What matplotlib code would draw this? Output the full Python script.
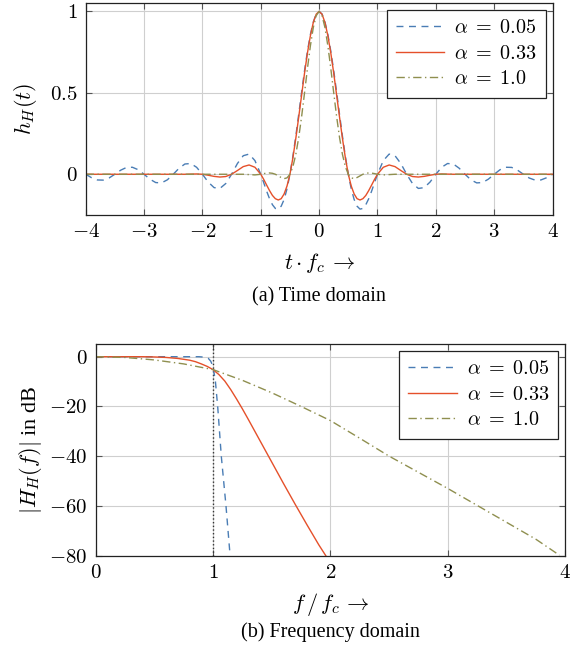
import matplotlib
matplotlib.use("Agg")
import matplotlib.pyplot as plt

plt.rcParams["mathtext.fontset"] = "cm"
plt.rcParams["font.family"] = ["Liberation Serif", "DejaVu Serif"]
plt.rcParams["font.size"] = 11

# --- time domain ---
t_vals = [-4.0, -3.9, -3.8, -3.7, -3.6, -3.5, -3.4, -3.3, -3.2, -3.1,
          -3.0, -2.9, -2.8, -2.7, -2.6, -2.5, -2.4, -2.3, -2.2, -2.1,
          -2.0, -1.9, -1.8, -1.7, -1.6, -1.5, -1.4, -1.3, -1.2, -1.1,
          -1.0, -0.95, -0.9, -0.85, -0.8, -0.75, -0.7, -0.65, -0.6, -0.55,
          -0.5, -0.45, -0.4, -0.35, -0.3, -0.25, -0.2, -0.15, -0.1, -0.05,
          0.0, 0.05, 0.1, 0.15, 0.2, 0.25, 0.3, 0.35, 0.4, 0.45,
          0.5, 0.55, 0.6, 0.65, 0.7, 0.75, 0.8, 0.85, 0.9, 0.95,
          1.0, 1.1, 1.2, 1.3, 1.4, 1.5, 1.6, 1.7, 1.8, 1.9,
          2.0, 2.1, 2.2, 2.3, 2.4, 2.5, 2.6, 2.7, 2.8, 2.9,
          3.0, 3.1, 3.2, 3.3, 3.4, 3.5, 3.6, 3.7, 3.8, 3.9, 4.0]

h_a005 = [0.000, -0.021, -0.035, -0.036, -0.023, 0.000, 0.025, 0.042, 0.043, 0.028,
          0.000, -0.030, -0.051, -0.053, -0.034, 0.000, 0.037, 0.063, 0.066, 0.043,
          0.000, -0.048, -0.082, -0.087, -0.057, 0.000, 0.066, 0.114, 0.124, 0.084,
          0.000, -0.051, -0.103, -0.150, -0.187, -0.210, -0.214, -0.196, -0.155, -0.089,
          0.000, 0.109, 0.233, 0.367, 0.504, 0.636, 0.756, 0.858, 0.935, 0.984,
          1.000, 0.984, 0.935, 0.858, 0.756, 0.636, 0.504, 0.367, 0.233, 0.109,
          0.000, -0.089, -0.155, -0.196, -0.214, -0.210, -0.187, -0.150, -0.103, -0.051,
          0.000, 0.084, 0.124, 0.114, 0.066, 0.000, -0.057, -0.087, -0.082, -0.048,
          0.000, 0.043, 0.066, 0.063, 0.037, 0.000, -0.034, -0.053, -0.051, -0.030,
          0.000, 0.028, 0.043, 0.042, 0.025, 0.000, -0.023, -0.036, -0.035, -0.021, 0.000]

h_a033 = [0.000, 0.000, 0.000, 0.000, 0.000, 0.000, 0.000, 0.000, 0.000, 0.000,
          0.000, 0.000, 0.000, 0.000, 0.000, 0.000, 0.000, 0.000, 0.001, 0.002,
          0.000, -0.006, -0.013, -0.017, -0.014, 0.000, 0.023, 0.047, 0.057, 0.043,
          0.000, -0.031, -0.066, -0.100, -0.130, -0.150, -0.158, -0.150, -0.121, -0.072,
          0.000, 0.100, 0.219, 0.350, 0.486, 0.621, 0.745, 0.850, 0.932, 0.983,
          1.000, 0.983, 0.932, 0.850, 0.745, 0.621, 0.486, 0.350, 0.219, 0.100,
          0.000, -0.072, -0.121, -0.150, -0.158, -0.150, -0.130, -0.100, -0.066, -0.031,
          0.000, 0.043, 0.057, 0.047, 0.023, 0.000, -0.014, -0.017, -0.013, -0.006,
          0.000, 0.002, 0.001, 0.000, 0.000, 0.000, 0.000, 0.000, 0.000, 0.000,
          0.000, 0.000, 0.000, 0.000, 0.000, 0.000, 0.000, 0.000, 0.000, 0.000, 0.000]

h_a100 = [0.000, 0.000, 0.000, 0.000, 0.000, 0.000, 0.000, 0.000, 0.000, 0.000,
          0.000, 0.000, 0.000, 0.000, 0.000, 0.000, 0.000, 0.000, 0.000, 0.000,
          0.000, 0.000, 0.000, 0.000, 0.000, 0.000, 0.000, 0.000, -0.002, -0.004,
          0.000, 0.004, 0.007, 0.008, 0.006, 0.000, -0.010, -0.020, -0.027, -0.022,
          0.000, 0.046, 0.121, 0.225, 0.354, 0.500, 0.650, 0.788, 0.901, 0.974,
          1.000, 0.974, 0.901, 0.788, 0.650, 0.500, 0.354, 0.225, 0.121, 0.046,
          0.000, -0.022, -0.027, -0.020, -0.010, 0.000, 0.006, 0.008, 0.007, 0.004,
          0.000, -0.004, -0.002, 0.000, 0.000, 0.000, 0.000, 0.000, 0.000, 0.000,
          0.000, 0.000, 0.000, 0.000, 0.000, 0.000, 0.000, 0.000, 0.000, 0.000,
          0.000, 0.000, 0.000, 0.000, 0.000, 0.000, 0.000, 0.000, 0.000, 0.000, 0.000]

# --- frequency domain (dB) ---
f_a005 = [0.0, 0.5, 0.88, 0.93, 0.96, 0.98, 1.0, 1.02, 1.04, 1.07, 1.11, 1.145]
H_a005 = [0.0, 0.0, 0.0, -0.2, -0.7, -1.8, -4.0, -10.0, -20.5, -40.0, -60.0, -80.0]

f_a033 = [0.0, 0.4, 0.5, 0.6, 0.7, 0.8, 0.85, 0.9, 0.95, 1.0, 1.05, 1.1, 1.15,
          1.2, 1.25, 1.3, 1.4, 1.5, 1.6, 1.7, 1.8, 1.9, 1.96]
H_a033 = [0.0, 0.0, -0.1, -0.3, -0.7, -1.4, -2.0, -2.9, -3.9, -5.2, -7.2, -9.8,
          -13.2, -17.0, -21.0, -25.2, -33.8, -42.4, -51.0, -59.4, -67.6, -75.6, -80.0]

f_a100 = [0.0, 0.25, 0.5, 0.75, 1.0, 1.25, 1.5, 1.75, 2.0, 2.25, 2.5, 2.75, 3.0,
          3.25, 3.5, 3.75, 3.95]
H_a100 = [0.0, -0.3, -1.3, -2.9, -5.2, -9.5, -14.5, -20.0, -25.7, -32.8, -40.0,
          -46.5, -53.0, -59.8, -66.6, -73.4, -79.8]

labels = [r"$\alpha\;=\;0.05$", r"$\alpha\;=\;0.33$", r"$\alpha\;=\;1.0$"]
colors = ["#4a7db5", "#e5502a", "#8f8f4f"]
styles = [(0, (5, 4)), "-", (0, (6, 2.5, 1, 2.5))]

t_ticks = [-4, -3, -2, -1, 0, 1, 2, 3, 4]
h_ticks = [0, 0.5, 1]
f_ticks = [0, 1, 2, 3, 4]
db_ticks = [0, -20, -40, -60, -80]


def style_axes(ax):
    ax.grid(True, color="#cfcfcf", linewidth=0.8)
    ax.set_axisbelow(True)
    ax.tick_params(direction="in", length=4, width=0.8, color="#555555",
                   top=True, right=True, labelsize=15, pad=6)
    for s in ax.spines.values():
        s.set_linewidth(0.9)
        s.set_color("#222222")


def add_legend(ax):
    leg = ax.legend(loc="upper right", fontsize=14.5, fancybox=False,
                    edgecolor="#222222", framealpha=1, borderaxespad=0.35,
                    handlelength=2.4, handletextpad=0.5, labelspacing=0.3,
                    borderpad=0.45)
    leg.get_frame().set_linewidth(0.9)


fig = plt.figure(figsize=(5.75, 6.57), dpi=100)

ax1 = fig.add_axes([0.149, 0.6728, 0.812, 0.3222])
for y, lab, c, ls in zip([h_a005, h_a033, h_a100], labels, colors, styles):
    ax1.plot(t_vals, y, color=c, linestyle=ls, linewidth=1.0, label=lab)
ax1.set_xlim(-4, 4)
ax1.set_ylim(-0.25, 1.05)
ax1.set_xticks(t_ticks, [f"${v}$" for v in t_ticks])
ax1.set_yticks(h_ticks, [f"${v}$" for v in h_ticks])
ax1.set_xlabel(r"$t\cdot f_c\,\rightarrow$", fontsize=16, labelpad=6)
ax1.set_ylabel(r"$h_H(t)$", fontsize=16, labelpad=8)
style_axes(ax1)
add_legend(ax1)

ax2 = fig.add_axes([0.1664, 0.1542, 0.8167, 0.3218])
ax2.axvline(1, color="#333333", linestyle=":", linewidth=1.0)
for f, y, lab, c, ls in zip([f_a005, f_a033, f_a100], [H_a005, H_a033, H_a100],
                             labels, colors, styles):
    ax2.plot(f, y, color=c, linestyle=ls, linewidth=1.0, label=lab)
ax2.set_xlim(0, 4)
ax2.set_ylim(-80, 5)
ax2.set_xticks(f_ticks, [f"${v}$" for v in f_ticks])
ax2.set_yticks(db_ticks, [f"${v}$" for v in db_ticks])
ax2.set_xlabel(r"$f\,/\,f_c\,\rightarrow$", fontsize=16, labelpad=6)
ax2.set_ylabel(r"$|H_H(f)|$ in dB", fontsize=16, labelpad=4)
style_axes(ax2)
add_legend(ax2)

fig.text(0.555, 1 - 297 / 657, "(a) Time domain", ha="center", va="center", fontsize=14.5)
fig.text(0.574, 1 - 632 / 657, "(b) Frequency domain", ha="center", va="center", fontsize=14.5)

fig.savefig("out.png", dpi=100)
